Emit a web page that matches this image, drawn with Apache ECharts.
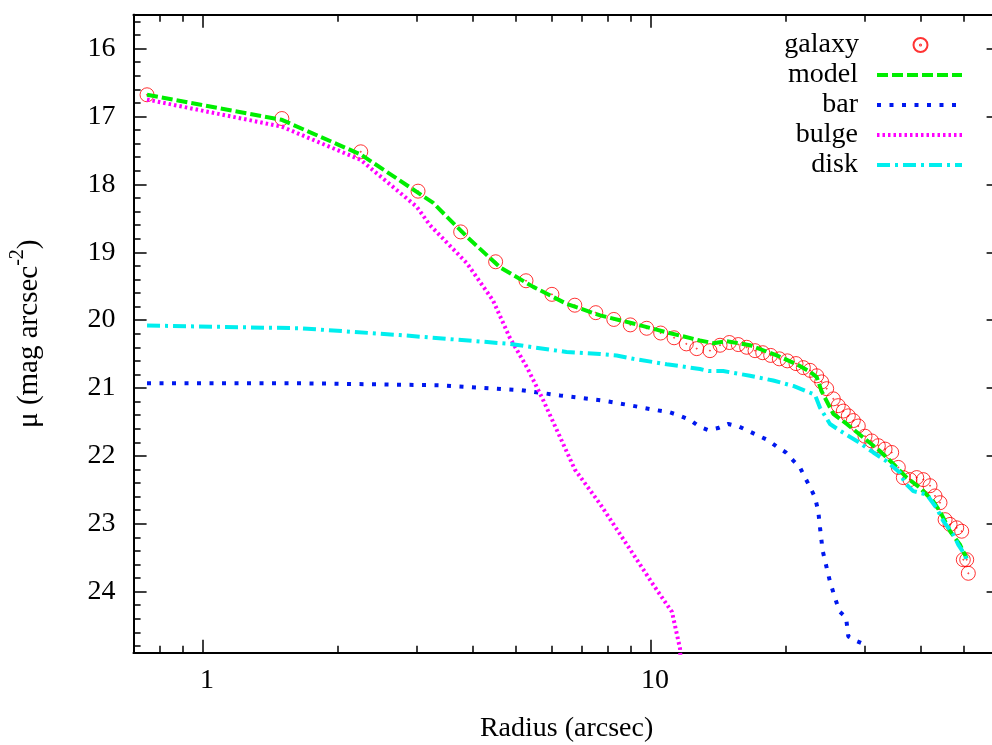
<!DOCTYPE html>
<html>
<head>
<meta charset="utf-8">
<script src="https://cdn.jsdelivr.net/npm/echarts@6/dist/echarts.min.js"></script>
<style>
  html, body { margin: 0; padding: 0; background: #fff; }
  #chart { width: 992px; height: 745px; }
</style>
</head>
<body>
<div id="chart"></div>
<script>
// radius (arcsec), surface brightness (mag arcsec^-2)
const galaxy = [
  [0.75, 16.68], [1.50, 17.03], [2.25, 17.52], [3.02, 18.10], [3.76, 18.70],
  [4.50, 19.14], [5.26, 19.42], [6.01, 19.62], [6.76, 19.78], [7.53, 19.89],
  [8.26, 19.99], [8.99, 20.07], [9.78, 20.12], [10.51, 20.19], [11.26, 20.26],
  [11.99, 20.35], [12.65, 20.42], [13.54, 20.45], [14.26, 20.37], [14.96, 20.33],
  [15.66, 20.36], [16.35, 20.40], [17.07, 20.45], [17.76, 20.48], [18.50, 20.52],
  [19.34, 20.57], [20.15, 20.60], [21.07, 20.64], [21.88, 20.70], [22.65, 20.74],
  [23.44, 20.82], [24.04, 20.91], [24.67, 21.01], [25.52, 21.16], [26.18, 21.26],
  [26.87, 21.34], [27.57, 21.41], [28.29, 21.48], [29.02, 21.56], [30.04, 21.71],
  [31.09, 21.78], [32.17, 21.85], [33.30, 21.90], [34.46, 21.95], [35.65, 22.17],
  [36.58, 22.32], [37.85, 22.35], [39.19, 22.32], [40.54, 22.35], [41.96, 22.44],
  [43.05, 22.59], [44.17, 22.69], [45.34, 22.94], [46.52, 23.01], [48.13, 23.06],
  [49.38, 23.11], [49.79, 23.53], [50.67, 23.53], [51.09, 23.73]
];
const model = [
  [0.75, 16.68], [1.50, 17.05], [2.25, 17.56], [3.00, 18.11], [3.26, 18.27],
  [3.88, 18.77], [4.60, 19.22], [5.46, 19.51], [6.48, 19.76], [7.70, 19.93],
  [9.13, 20.05], [10.84, 20.18], [12.86, 20.30], [13.78, 20.34], [14.76, 20.31],
  [16.63, 20.37], [19.08, 20.52], [21.14, 20.65], [22.65, 20.76], [23.44, 20.84],
  [24.04, 21.05], [25.52, 21.38], [27.35, 21.53], [29.78, 21.73], [32.45, 21.93],
  [34.75, 22.12], [37.22, 22.32], [39.85, 22.47], [42.67, 22.67], [44.17, 22.82],
  [46.52, 23.11], [48.96, 23.31], [50.67, 23.51]
];
const bar = [
  [0.75, 20.93], [1.65, 20.93], [3.38, 20.96], [5.10, 21.03], [6.27, 21.11],
  [7.89, 21.19], [8.90, 21.25], [9.95, 21.31], [11.03, 21.36], [11.61, 21.41],
  [12.22, 21.47], [12.82, 21.57], [13.43, 21.62], [14.13, 21.59], [14.88, 21.53],
  [15.74, 21.57], [16.58, 21.64], [17.45, 21.71], [18.27, 21.77], [19.14, 21.87],
  [20.01, 21.95], [20.78, 22.07], [21.50, 22.17], [22.07, 22.32], [22.65, 22.46],
  [23.23, 22.61], [23.63, 22.82], [23.84, 23.06], [24.17, 23.40], [24.46, 23.54],
  [24.75, 23.69], [25.09, 23.85], [25.52, 24.01], [26.33, 24.29], [27.25, 24.38],
  [27.57, 24.66], [28.79, 24.73], [30.04, 24.78]
];
const bulge = [
  [0.75, 16.75], [1.50, 17.15], [2.25, 17.64], [3.00, 18.33], [3.21, 18.60],
  [3.88, 19.16], [4.44, 19.71], [4.84, 20.26], [5.29, 20.70], [5.71, 21.14],
  [6.76, 22.20], [7.70, 22.71], [9.13, 23.45], [10.12, 23.90], [11.14, 24.30],
  [11.61, 24.84], [11.70, 25.30]
];
const disk = [
  [0.75, 20.08], [1.65, 20.12], [2.75, 20.22], [4.84, 20.35], [6.48, 20.47],
  [7.70, 20.50], [8.38, 20.52], [9.13, 20.57], [10.84, 20.65], [12.86, 20.72],
  [13.43, 20.75], [14.50, 20.75], [16.63, 20.82], [18.75, 20.89], [20.78, 20.97],
  [22.65, 21.07], [23.23, 21.10], [23.84, 21.29], [25.09, 21.53], [26.42, 21.63],
  [28.79, 21.78], [31.35, 21.95], [33.59, 22.08], [35.96, 22.25], [36.90, 22.40],
  [38.50, 22.52], [41.25, 22.57], [43.42, 22.77], [44.93, 22.96], [47.31, 23.16],
  [48.54, 23.31], [50.23, 23.46], [50.67, 23.55]
];

const xMajorTicks = [1, 10];
const xMinorTicks = [0.8, 0.9, 2, 3, 4, 5, 6, 7, 8, 9, 20, 30, 40, 50];
const yMajorTicks = [16, 17, 18, 19, 20, 21, 22, 23, 24];
const yMinorTicks = [
  15.6, 15.8, 16.2, 16.4, 16.6, 16.8, 17.2, 17.4, 17.6, 17.8,
  18.2, 18.4, 18.6, 18.8, 19.2, 19.4, 19.6, 19.8, 20.2, 20.4,
  20.6, 20.8, 21.2, 21.4, 21.6, 21.8, 22.2, 22.4, 22.6, 22.8,
  23.2, 23.4, 23.6, 23.8, 24.2, 24.4, 24.6, 24.8
];
const legendNames = ['galaxy', 'model', 'bar', 'bulge', 'disk'];

const FONT = "'Liberation Serif', 'DejaVu Serif', serif";
const chart = echarts.init(document.getElementById('chart'), null, { renderer: 'canvas' });

// gnuplot style: ticks drawn inward on all four sides
function makeXAxis(position, ticks, len, labels) {
  return {
    type: 'log', logBase: 10, min: 0.7, max: 60, position: position,
    axisLine: { show: true, lineStyle: { color: '#000', width: 2 } },
    axisTick: { show: true, inside: true, length: len, customValues: ticks,
      lineStyle: { color: '#000', width: 1.5 } },
    axisLabel: labels ? {
      show: true, customValues: xMajorTicks, margin: 14, color: '#000',
      fontFamily: FONT, fontSize: 28, padding: [0, 0, 0, 8]
    } : { show: false },
    splitLine: { show: false }, minorTick: { show: false }
  };
}
function makeYAxis(position, ticks, len, labels) {
  return {
    type: 'value', inverse: true, min: 15.5, max: 24.9, position: position,
    axisLine: { show: position === 'left', lineStyle: { color: '#000', width: 2 } },
    axisTick: { show: true, inside: true, length: len, customValues: ticks,
      lineStyle: { color: '#000', width: 1.5 } },
    axisLabel: labels ? {
      show: true, customValues: yMajorTicks, margin: 18, color: '#000',
      fontFamily: FONT, fontSize: 28, padding: [9, 0, 0, 0]
    } : { show: false },
    splitLine: { show: false }
  };
}

const xAxes = [
  makeXAxis('bottom', xMajorTicks, 13, true),
  makeXAxis('bottom', xMinorTicks, 7, false),
  makeXAxis('top', xMajorTicks, 13, false),
  makeXAxis('top', xMinorTicks, 7, false)
];
Object.assign(xAxes[0], {
  name: 'Radius (arcsec)', nameLocation: 'middle', nameGap: 62,
  nameTextStyle: { fontFamily: FONT, fontSize: 28, color: '#000' }
});
const yAxes = [
  makeYAxis('left', yMajorTicks, 13, true),
  makeYAxis('left', yMinorTicks, 7, false),
  makeYAxis('right', yMajorTicks, 13, false),
  makeYAxis('right', yMinorTicks, 7, false)
];
Object.assign(yAxes[0], {
  name: '{a|\u03bc (mag arcsec}{s|-2}{a|)}', nameLocation: 'middle', nameGap: 82,
  nameTextStyle: {
    color: '#000',
    rich: {
      a: { fontFamily: FONT, fontSize: 29, color: '#000' },
      s: { fontFamily: FONT, fontSize: 20, color: '#000', padding: [0, 0, 24, 0] }
    }
  }
});

// open circle with a centre dot
const circleDot = 'path://M13,6.5A6.5,6.5,0,1,1,0,6.5A6.5,6.5,0,1,1,13,6.5Z' +
  'M7,6.5A0.5,0.5,0,1,1,6,6.5A0.5,0.5,0,1,1,7,6.5Z';

function lineSeries(name, data, color, dash) {
  return {
    name: name, type: 'line', data: data, xAxisIndex: 0, yAxisIndex: 0,
    symbol: 'none', showSymbol: false, clip: true, silent: true,
    lineStyle: { color: color, width: 4, type: dash, cap: 'butt' },
    itemStyle: { color: color }
  };
}

// one legend per entry so text is right aligned and samples line up
const legends = legendNames.map(function (name, i) {
  const isLine = name !== 'galaxy';
  return {
    data: [name], orient: 'vertical', align: 'right',
    right: isLine ? 28 : 63.5, top: 31 + i * 30,
    itemWidth: isLine ? 85 : 14, itemHeight: 14, itemGap: 0, padding: 0,
    selectedMode: false, symbolKeepAspect: true,
    itemStyle: isLine ? { opacity: 0, color: 'rgba(0,0,0,0)', borderWidth: 0 } : {},
    lineStyle: { width: 4 },
    textStyle: { fontFamily: FONT, fontSize: 28, color: '#000', lineHeight: 28,
      padding: [0, isLine ? 14 : 49.5, 0, 0] }
  };
});

chart.setOption({
  animation: false,
  backgroundColor: '#fff',
  grid: { left: 133.6, top: 14.7, width: 866, height: 638, containLabel: false,
    outerBoundsMode: 'none' },
  legend: legends,
  xAxis: xAxes,
  yAxis: yAxes,
  series: [
    {
      name: 'galaxy', type: 'scatter', data: galaxy, xAxisIndex: 0, yAxisIndex: 0,
      symbol: circleDot, symbolSize: 14, symbolKeepAspect: true, silent: true,
      itemStyle: { color: 'rgba(0,0,0,0)', borderColor: '#ff0000', borderWidth: 1 }
    },
    lineSeries('model', model, '#00ee00', [11, 4]),
    lineSeries('bar', bar, '#0018ee', [4, 8.5]),
    lineSeries('bulge', bulge, '#ff00ff', [2.5, 3]),
    lineSeries('disk', disk, '#00eeee', [13, 5, 3, 5])
  ]
});
</script>
</body>
</html>
